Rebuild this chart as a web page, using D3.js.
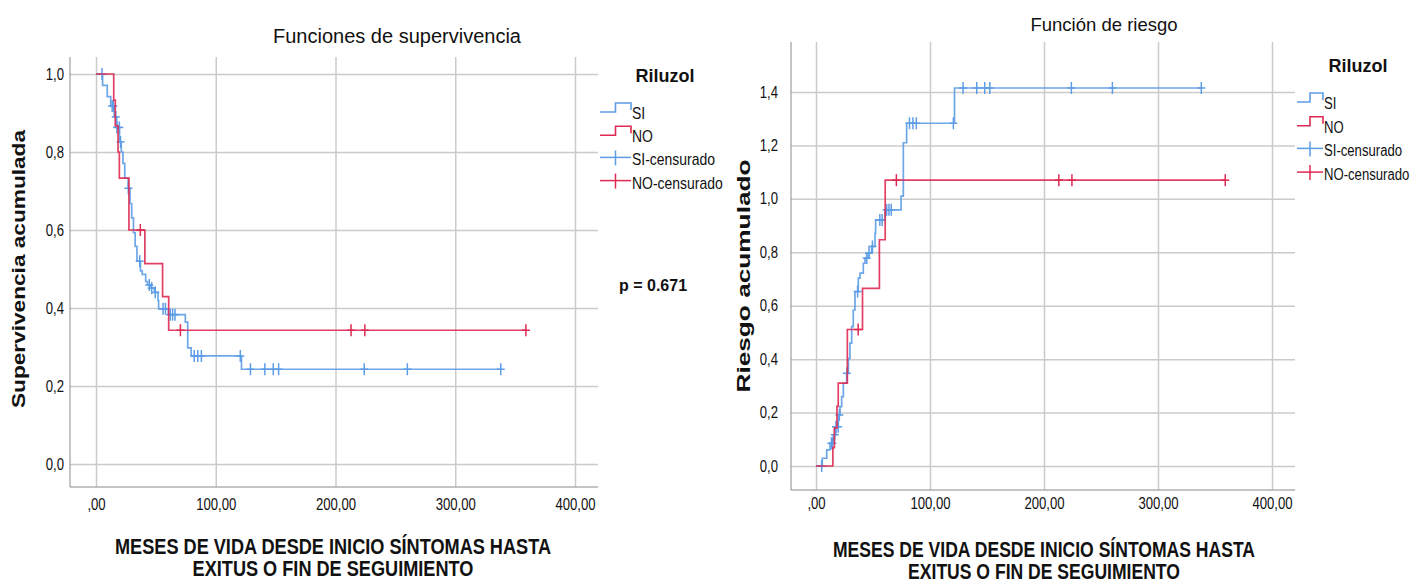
<!DOCTYPE html>
<html>
<head>
<meta charset="utf-8">
<script src="https://cdn.jsdelivr.net/npm/d3@7"></script>
<style>
  body { margin: 0; background: #fff; }
  svg text { fill: #111; }
  .sans { font-family: "Liberation Sans", Arial, sans-serif; }
  .narrow { font-family: "Liberation Sans Narrow", "Arial Narrow", "Liberation Sans", Arial, sans-serif; }
</style>
</head>
<body>
<svg id="chart" width="1418" height="580"></svg>
<script>
// ---- data ----
const xTicks = [0, 100, 200, 300, 400];
const survTicks = [0, 0.2, 0.4, 0.6, 0.8, 1.0];
const hazTicks = [0, 0.2, 0.4, 0.6, 0.8, 1.0, 1.2, 1.4];
const legendTitle = "Riluzol";
const legendLabels = ["SI", "NO", "SI-censurado", "NO-censurado"];
const xTitle = ["MESES DE VIDA DESDE INICIO SÍNTOMAS HASTA", "EXITUS O FIN DE SEGUIMIENTO"];
const pText = "p = 0.671";

// grupo SI (Riluzol = SI)
const siTimes = [5.5, 9.4, 12.3, 15.2, 17.3, 19.6, 21.1, 22.5, 24.0, 26.9, 28.4, 29.8, 31.3, 32.7,
                 34.2, 37.1, 38.6, 41.5, 43.0, 45.9, 48.8, 51.8, 52.3, 60.5, 74.6, 76.6, 79.5, 121.5];
const siSurv  = [0.971, 0.942, 0.918, 0.89, 0.863, 0.826, 0.80, 0.771, 0.733, 0.707, 0.668, 0.631, 0.593, 0.558,
                 0.52, 0.495, 0.486, 0.468, 0.459, 0.451, 0.44, 0.419, 0.398, 0.383, 0.364, 0.298, 0.277, 0.243];
const siHaz   = [0.029, 0.06, 0.085, 0.117, 0.147, 0.191, 0.222, 0.26, 0.31, 0.347, 0.403, 0.46, 0.522, 0.584,
                 0.653, 0.703, 0.722, 0.759, 0.778, 0.797, 0.822, 0.871, 0.921, 0.959, 1.01, 1.21, 1.283, 1.415];
const siCensored = [5, 13.5, 14.5, 16.5, 17.5, 19.5, 20.5, 27, 36.5, 44.5, 46.5, 49.5, 56, 58, 62, 64, 66,
                    82, 85, 88, 120.5, 129, 141, 148, 152.5, 224, 260, 338];

// grupo NO
const noTimes = [14.8, 16.1, 18.4, 19.5, 27.5, 40.8, 55.6, 60.7];
const noSurv  = [0.933, 0.867, 0.80, 0.733, 0.60, 0.514, 0.429, 0.343];
const noHaz   = [0.069, 0.143, 0.223, 0.31, 0.511, 0.665, 0.847, 1.07];
const noCensored = [37, 70.5, 213, 224.5, 359];

const colSI = "#5d9de6";
const colNO = "#de2a52";

const svg = d3.select("#chart");

// does the narrow face exist? if not, squeeze the regular one later
const probeA = svg.append("text").attr("class", "narrow").style("font-size", "20px").text("MESES DE VIDA");
const probeB = svg.append("text").attr("class", "sans").style("font-size", "20px").text("MESES DE VIDA");
const hasNarrow = probeA.node().getComputedTextLength() < probeB.node().getComputedTextLength() * 0.92;
probeA.remove(); probeB.remove();

const fmtX = v => v === 0 ? ",00" : v.toFixed(2).replace(".", ",");
const fmtY = v => v.toFixed(1).replace(".", ",");

function valueAt(times, vals, start, t) {
  let v = start;
  times.forEach((tt, i) => { if (tt <= t) v = vals[i]; });
  return v;
}

function drawPanel(p) {
  const g = svg.append("g");
  const x = d3.scaleLinear().domain([0, 400]).range(p.xRange);
  const y = d3.scaleLinear().domain(p.yDomain).range(p.yRange);

  // horizontal grid + y labels
  const gy = g.append("g")
    .attr("transform", `translate(${p.left},0)`)
    .call(d3.axisLeft(y).tickValues(p.yTicks).tickSize(-(p.right - p.left)).tickPadding(p.yPad).tickFormat(fmtY));
  gy.select(".domain").remove();
  gy.selectAll(".tick line").attr("stroke", "#cbcbcb").attr("stroke-width", 1.5);
  gy.selectAll(".tick text").attr("class", "narrow").style("font-size", "16px").attr("fill", "#1a1a1a");

  // vertical grid + x labels
  const gx = g.append("g")
    .attr("transform", `translate(0,${p.bottom})`)
    .call(d3.axisBottom(x).tickValues(xTicks).tickSize(-(p.bottom - p.top)).tickPadding(p.xPad).tickFormat(fmtX));
  gx.select(".domain").remove();
  gx.selectAll(".tick line").attr("stroke", "#cbcbcb").attr("stroke-width", 1.5);
  gx.selectAll(".tick text").attr("class", "narrow").style("font-size", "16px").attr("fill", "#1a1a1a");

  // axis lines
  g.append("line").attr("x1", p.left).attr("x2", p.left).attr("y1", p.top).attr("y2", p.bottom)
    .attr("stroke", "#8a8a8a").attr("stroke-width", 1);
  g.append("line").attr("x1", p.left).attr("x2", p.right).attr("y1", p.bottom).attr("y2", p.bottom)
    .attr("stroke", "#8a8a8a").attr("stroke-width", 1);

  const line = d3.line().x(d => x(d[0])).y(d => y(d[1])).curve(d3.curveStepAfter);

  p.series.forEach(s => {
    const end = s.censored[s.censored.length - 1];
    const pts = [[0, s.start]].concat(s.times.map((t, i) => [t, s.vals[i]]), [[end, s.vals[s.vals.length - 1]]]);
    g.append("path").attr("d", line(pts)).attr("fill", "none")
      .attr("stroke", s.color).attr("stroke-width", 1.7).attr("stroke-opacity", 0.9);
    const marks = g.append("g").attr("stroke", s.color).attr("stroke-width", 1.5);
    s.censored.forEach(t => {
      const cx = x(t), cy = y(valueAt(s.times, s.vals, s.start, t));
      marks.append("line").attr("x1", cx - 4).attr("x2", cx + 4).attr("y1", cy).attr("y2", cy);
      marks.append("line").attr("x1", cx).attr("x2", cx).attr("y1", cy - 6).attr("y2", cy + 6);
    });
  });

  // title
  g.append("text").attr("class", "sans").attr("x", p.titleX).attr("y", p.titleY)
    .attr("text-anchor", "middle").style("font-size", p.titleSize + "px").attr("fill", "#000").text(p.title);

  // y title
  g.append("text").attr("class", "sans")
    .attr("transform", `translate(${p.yTitleX},${p.yTitleY}) rotate(-90)`)
    .attr("text-anchor", "middle").style("font-size", "18px").style("font-weight", "bold")
    .attr("textLength", p.yTitleLen).attr("lengthAdjust", "spacingAndGlyphs")
    .text(p.yTitle);

  // x title: two lines, squeezed to the measured width of the first one
  const xt = xTitle.map((t, i) => g.append("text").attr("class", "sans")
    .attr("x", p.xTitleX).attr("y", p.xTitleY + i * 22)
    .attr("text-anchor", "middle").style("font-size", p.xTitleSize + "px").style("font-weight", "bold")
    .attr("fill", "#000").text(t));
  const squeeze = p.xTitleLen / xt[0].node().getComputedTextLength();
  xt.forEach(t => t.attr("textLength", t.node().getComputedTextLength() * squeeze)
    .attr("lengthAdjust", "spacingAndGlyphs"));

  // legend
  const lg = g.append("g");
  lg.append("text").attr("class", "sans").attr("x", p.legTitleX).attr("y", p.legTitleY)
    .attr("text-anchor", "middle").style("font-size", "18px").style("font-weight", "bold").text(legendTitle);
  legendLabels.forEach((lab, i) => {
    const cy = p.legY + i * p.legStep;
    const col = i % 2 === 0 ? colSI : colNO;
    const x0 = p.legX0, x1 = p.legX1, xm = (x0 + x1) / 2;
    if (i < 2) {
      lg.append("path").attr("d", `M${x0},${cy - 1}H${xm}V${cy - 10}H${x1}V${cy - 3}`)
        .attr("fill", "none").attr("stroke", col).attr("stroke-width", 1.6);
    } else {
      lg.append("line").attr("x1", x0).attr("x2", x1).attr("y1", cy - 2).attr("y2", cy - 2)
        .attr("stroke", col).attr("stroke-width", 1.5);
      lg.append("line").attr("x1", xm).attr("x2", xm).attr("y1", cy - 9).attr("y2", cy + 6)
        .attr("stroke", col).attr("stroke-width", 1.5);
    }
    lg.append("text").attr("class", "narrow").attr("x", x1 + 1).attr("y", cy + 6)
      .style("font-size", p.legSize + "px").text(lab);
  });
}

drawPanel({
  xRange: [96, 575], yDomain: [0, 1], yRange: [464, 74], yTicks: survTicks,
  left: 70, right: 598, top: 57, bottom: 487, yPad: 6, xPad: 12,
  title: "Funciones de supervivencia", titleX: 397, titleY: 43, titleSize: 20,
  yTitle: "Supervivencia acumulada", yTitleX: 25, yTitleY: 269, yTitleLen: 278,
  xTitleX: 333, xTitleY: 554, xTitleSize: 22, xTitleLen: 436,
  legTitleX: 665, legTitleY: 82, legX0: 600, legX1: 631, legY: 113, legStep: 23.2, legSize: 17,
  series: [
    { times: siTimes, vals: siSurv, start: 1, censored: siCensored, color: colSI },
    { times: noTimes, vals: noSurv, start: 1, censored: noCensored, color: colNO }
  ]
});

drawPanel({
  xRange: [816, 1272], yDomain: [0, 1.4], yRange: [466, 92], yTicks: hazTicks,
  left: 791, right: 1295, top: 42, bottom: 490, yPad: 13, xPad: 8,
  title: "Función de riesgo", titleX: 1104, titleY: 31, titleSize: 18.5,
  yTitle: "Riesgo acumulado", yTitleX: 750, yTitleY: 276, yTitleLen: 233,
  xTitleX: 1044, xTitleY: 557, xTitleSize: 21.5, xTitleLen: 422,
  legTitleX: 1358, legTitleY: 72, legX0: 1297, legX1: 1323, legY: 103, legStep: 23.7, legSize: 16,
  series: [
    { times: siTimes, vals: siHaz, start: 0, censored: siCensored, color: colSI },
    { times: noTimes, vals: noHaz, start: 0, censored: noCensored, color: colNO }
  ]
});

svg.append("text").attr("class", "sans").attr("x", 619).attr("y", 291)
  .style("font-size", "16px").style("font-weight", "bold").attr("fill", "#000").text(pText);

// squeeze regular face when the narrow one is missing
if (!hasNarrow) {
  svg.selectAll("text.narrow").each(function () {
    const w = this.getComputedTextLength();
    d3.select(this).attr("textLength", w * 0.82).attr("lengthAdjust", "spacingAndGlyphs");
  });
}
</script>
</body>
</html>
